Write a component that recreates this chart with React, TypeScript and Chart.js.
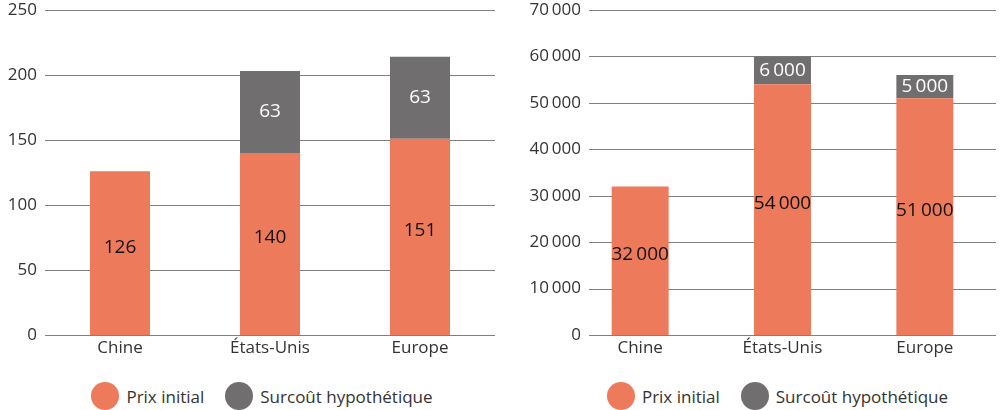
import React, { useEffect, useRef } from "react";
import { Chart, registerables } from "chart.js";

Chart.register(...registerables);

const categories = ["Chine", "États-Unis", "Europe"];
const seriesNames = ["Prix initial", "Surcoût hypothétique"];
const leftInitial = [126, 140, 151];
const leftExtra = [null, 63, 63];
const rightInitial = [32000, 54000, 51000];
const rightExtra = [null, 6000, 5000];
const leftTicks = [0, 50, 100, 150, 200, 250];
const rightTicks = [0, 10000, 20000, 30000, 40000, 50000, 60000, 70000];

const ORANGE = "#EC7A5B";
const GREY = "#716E6F";
const GRID = "#808080";
const TEXT = "#333333";
const FONT = "'Open Sans', 'DejaVu Sans', sans-serif";

function fmt(v: number): string {
  if (v >= 1000) {
    return Math.floor(v / 1000) + "\u2009" + String(v % 1000).padStart(3, "0");
  }
  return String(v);
}

// Horizontal grid lines + y tick labels, drawn from the library's y scale ticks
const gridPlugin = {
  id: "customGrid",
  beforeDatasetsDraw(chart: any, _args: any, opts: any) {
    const { ctx, chartArea, scales } = chart;
    const y = scales.y;
    ctx.save();
    ctx.strokeStyle = GRID;
    ctx.lineWidth = 1;
    ctx.fillStyle = TEXT;
    ctx.font = `17px ${FONT}`;
    ctx.textAlign = "right";
    ctx.textBaseline = "middle";
    y.ticks.forEach((t: any) => {
      const yy = y.getPixelForValue(t.value);
      const py = Math.round(yy) + 0.5;
      ctx.beginPath();
      ctx.moveTo(chartArea.left + (opts.inset || 0), py);
      ctx.lineTo(chartArea.right, py);
      ctx.stroke();
      ctx.fillText(fmt(t.value), chartArea.left + (opts.labelX || 0), yy);
    });
    ctx.restore();
  },
};

const labelPlugin = {
  id: "barLabels",
  afterDatasetsDraw(chart: any) {
    const { ctx } = chart;
    ctx.save();
    ctx.font = `19px ${FONT}`;
    ctx.textAlign = "center";
    ctx.textBaseline = "middle";
    chart.data.datasets.forEach((ds: any, i: number) => {
      const meta = chart.getDatasetMeta(i);
      meta.data.forEach((bar: any, j: number) => {
        const v = ds.data[j];
        if (v == null) return;
        const p = bar.getProps(["x", "y", "base"], true);
        ctx.fillStyle = i === 0 ? "#111111" : "#ffffff";
        const off = i === 0 ? -6 : 0;
        ctx.fillText(fmt(v), p.x, (p.y + p.base) / 2 + off);
      });
    });
    ctx.restore();
  },
};

function makeConfig(
  initial: (number | null)[],
  extra: (number | null)[],
  ticks: number[],
  yWidth: number,
  labelX: number,
  rightPad: number,
  inset: number
): any {
  return {
    type: "bar",
    data: {
      labels: categories,
      datasets: [
        { label: seriesNames[0], data: initial, backgroundColor: ORANGE, borderWidth: 0 },
        { label: seriesNames[1], data: extra, backgroundColor: GREY, borderWidth: 0 },
      ],
    },
    plugins: [gridPlugin, labelPlugin],
    options: {
      responsive: false,
      animation: false,
      devicePixelRatio: 1,
      layout: { padding: { top: 0, left: 0, right: rightPad, bottom: 0 } },
      datasets: { bar: { categoryPercentage: 1, barPercentage: 0.4 } },
      plugins: {
        legend: { display: false },
        tooltip: { enabled: false },
        customGrid: { inset, labelX },
      },
      scales: {
        x: {
          stacked: true,
          grid: { display: false, drawTicks: false },
          border: { display: false },
          ticks: { color: TEXT, font: { family: FONT, size: 17 }, padding: 3, maxRotation: 0 },
          afterFit: (s: any) => {
            s.height = 30;
          },
        },
        y: {
          stacked: true,
          min: ticks[0],
          max: ticks[ticks.length - 1],
          grid: { display: false, drawTicks: false },
          border: { display: false },
          afterBuildTicks: (s: any) => {
            s.ticks = ticks.map((v) => ({ value: v }));
          },
          ticks: { display: false },
          afterFit: (s: any) => {
            s.width = yWidth;
            s.paddingTop = 10;
            s.paddingBottom = 0;
          },
        },
      },
    },
  };
}

function Legend({ left, width }: { left: number; width: number }) {
  const colors = [ORANGE, GREY];
  return (
    <div
      style={{
        position: "absolute",
        left,
        top: 382,
        width,
        height: 28,
        display: "flex",
        justifyContent: "center",
        alignItems: "center",
        fontFamily: FONT,
        fontSize: 17,
        color: TEXT,
        whiteSpace: "nowrap",
      }}
    >
      {seriesNames.map((n, i) => (
        <div key={n} style={{ display: "flex", alignItems: "center", marginLeft: i === 0 ? 0 : 21 }}>
          <span
            style={{
              display: "inline-block",
              width: 28,
              height: 28,
              borderRadius: "50%",
              background: colors[i],
              marginRight: 7,
            }}
          />
          <span>{n}</span>
        </div>
      ))}
    </div>
  );
}

export default function App() {
  const leftRef = useRef<HTMLCanvasElement | null>(null);
  const rightRef = useRef<HTMLCanvasElement | null>(null);

  useEffect(() => {
    const c1 = new Chart(leftRef.current as HTMLCanvasElement, makeConfig(leftInitial, leftExtra, leftTicks, 45, -8, 5, 0));
    const c2 = new Chart(rightRef.current as HTMLCanvasElement, makeConfig(rightInitial, rightExtra, rightTicks, 69, 12, 4, 20));
    return () => {
      c1.destroy();
      c2.destroy();
    };
  }, []);

  return (
    <div style={{ position: "absolute", left: 0, top: 0, width: 1000, height: 410, background: "#fff", overflow: "hidden" }}>
      <canvas ref={leftRef} width={500} height={365} style={{ position: "absolute", left: 0, top: 0, width: 500, height: 365 }} />
      <canvas ref={rightRef} width={500} height={365} style={{ position: "absolute", left: 500, top: 0, width: 500, height: 365 }} />
      <Legend left={37} width={450} />
      <Legend left={564} width={427} />
    </div>
  );
}
